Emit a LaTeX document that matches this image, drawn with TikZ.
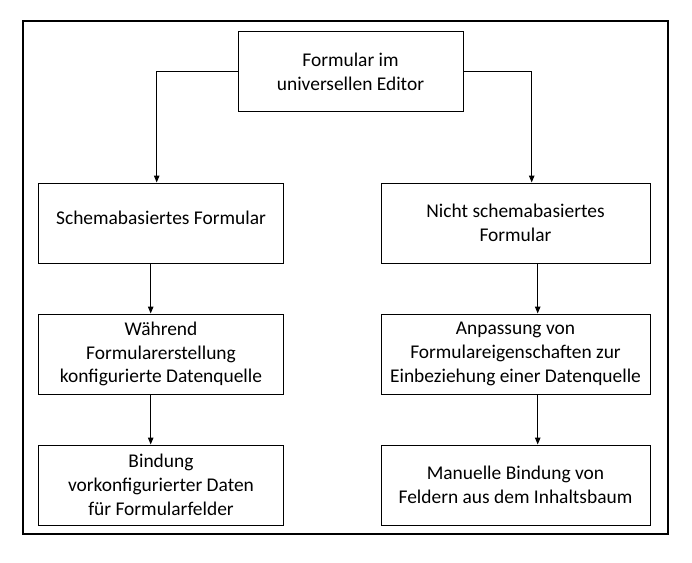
\documentclass[tikz,border=0pt]{standalone}
\usepackage{fontspec}
\setmainfont{Carlito}
\usepackage{tikz}
\usetikzlibrary{arrows.meta,positioning}

\begin{document}
\begin{tikzpicture}[
x=1bp,y=-1bp,
font=\fontsize{19.5}{24}\selectfont,
box/.style={draw,line width=1bp,minimum height=80bp,inner sep=2bp,align=center},
lbox/.style={box,minimum width=244bp},
rbox/.style={box,minimum width=269bp},
arrow/.style={-{Triangle[length=7bp,width=5.5bp]},line width=1bp},
outer/.style={draw,line width=2.2bp}
]
\useasboundingbox (0,0) rectangle (692,563);
\draw[outer] (23,21) rectangle (668,534);
\node[box,minimum width=225bp] (form) at (350.5,72) {Formular im\\universellen Editor};
\node[lbox,below=70bp of form.south,xshift=-189.5bp] (schema) {Schemabasiertes Formular\\[-14bp]};
\node[rbox,below=70bp of form.south,xshift=165bp] (noschema) {Nicht schemabasiertes\\Formular};
\node[lbox,below=50bp of schema] (quelle) {Während\\Formularerstellung\\konfigurierte Datenquelle};
\node[rbox,below=50bp of noschema] (anpassung) {Anpassung von\\Formulareigenschaften zur\\Einbeziehung einer Datenquelle};
\node[lbox,below=50bp of quelle] (bindung) {Bindung\\vorkonfigurierter Daten\\für Formularfelder};
\node[rbox,below=50bp of anpassung] (manuell) {Manuelle Bindung von\\Feldern aus dem Inhaltsbaum};
\draw[arrow] (form.west) -| ([xshift=-4.3bp]schema.north);
\draw[arrow] (form.east) -| ([xshift=16.2bp]noschema.north);
\draw[arrow] ([xshift=-10.3bp]schema.south) -- ([xshift=-10.3bp]quelle.north);
\draw[arrow] ([xshift=22.2bp]noschema.south) -- ([xshift=22.2bp]anpassung.north);
\draw[arrow] ([xshift=-10.3bp]quelle.south) -- ([xshift=-10.3bp]bindung.north);
\draw[arrow] ([xshift=22.2bp]anpassung.south) -- ([xshift=22.2bp]manuell.north);
\end{tikzpicture}
\end{document}
